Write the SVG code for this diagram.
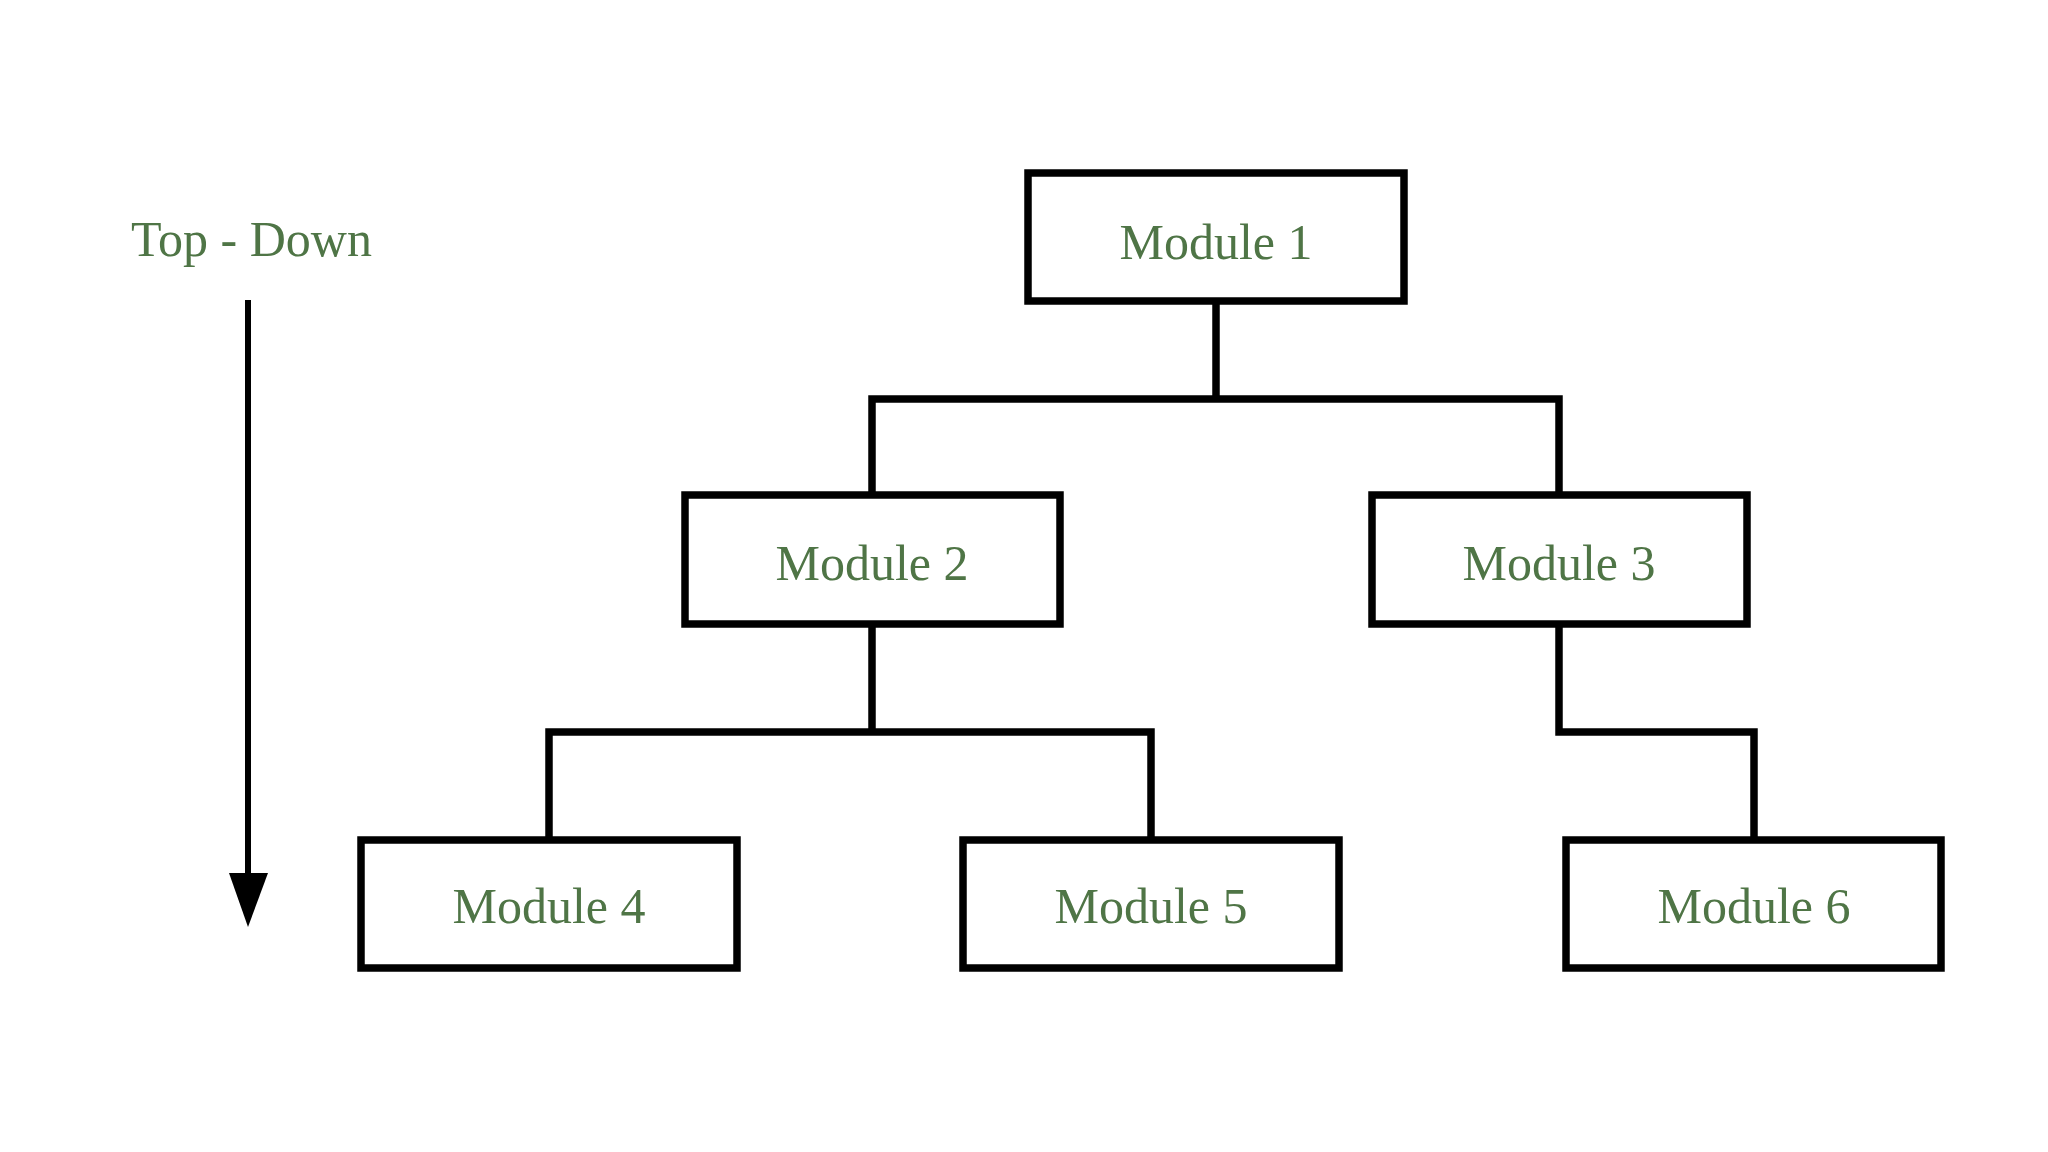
<svg xmlns="http://www.w3.org/2000/svg" width="2048" height="1152" viewBox="0 0 2048 1152">
<style>
.box{fill:#ffffff;stroke:#000000;stroke-width:7.5}
.lbl{font-family:"Liberation Serif","Times New Roman",serif;font-size:50px;fill:#4f7546;text-anchor:middle}
.conn{fill:none;stroke:#000000;stroke-width:7.5;stroke-linejoin:miter;stroke-linecap:square}
</style>
<rect width="2048" height="1152" fill="#ffffff"/>
<g id="legend">
<text x="131" y="256" class="lbl" style="text-anchor:start">Top - Down</text>
<line x1="248" y1="300" x2="248" y2="880" stroke="#000" stroke-width="6"/>
<polygon points="229,873 268,873 248,927" fill="#000"/>
</g>
<g id="connectors">
<path class="conn" d="M1216,301 V399 M872,495 V399 H1559 V495"/>
<path class="conn" d="M872,624 V732 M549,840 V732 H1151 V840"/>
<path class="conn" d="M1559,624 V732 H1754 V840"/>
</g>
<g id="module1"><rect class="box" x="1028" y="173" width="376" height="128"/><text class="lbl" x="1216" y="259">Module 1</text></g>
<g id="module2"><rect class="box" x="685" y="495" width="375" height="129"/><text class="lbl" x="872" y="580">Module 2</text></g>
<g id="module3"><rect class="box" x="1372" y="495" width="375" height="129"/><text class="lbl" x="1559" y="580">Module 3</text></g>
<g id="module4"><rect class="box" x="361" y="840" width="376" height="128"/><text class="lbl" x="549" y="923">Module 4</text></g>
<g id="module5"><rect class="box" x="963" y="840" width="376" height="128"/><text class="lbl" x="1151" y="923">Module 5</text></g>
<g id="module6"><rect class="box" x="1566" y="840" width="375" height="128"/><text class="lbl" x="1754" y="923">Module 6</text></g>
</svg>
